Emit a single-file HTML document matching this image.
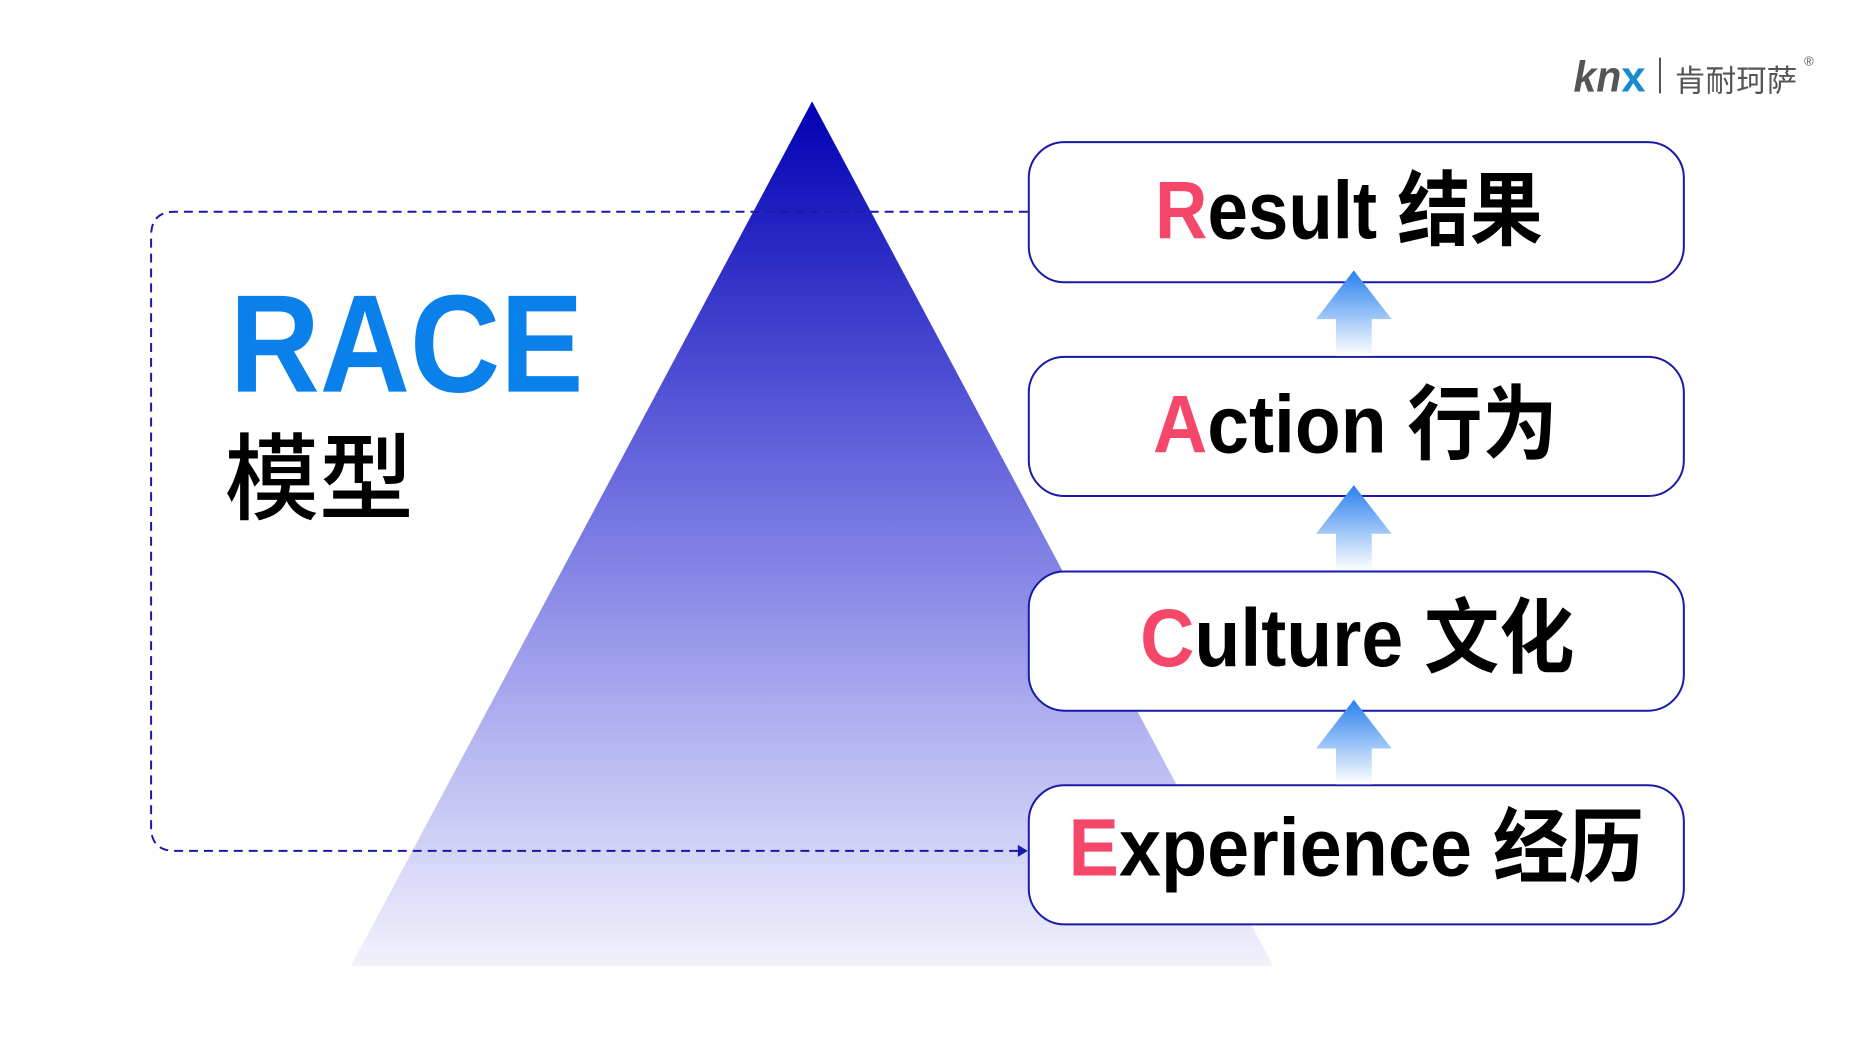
<!DOCTYPE html>
<html><head><meta charset="utf-8"><style>
html,body{margin:0;padding:0;background:#fff;}
svg{display:block;}
</style></head><body>
<svg width="1875" height="1042" viewBox="0 0 1875 1042" xmlns="http://www.w3.org/2000/svg">
<defs>
<linearGradient id="tri" x1="0" y1="0" x2="0" y2="1">
<stop offset="0" stop-color="#0000b4"/>
<stop offset="0.45" stop-color="#6e6ee0"/>
<stop offset="0.75" stop-color="#b8b8f2"/>
<stop offset="1" stop-color="#f2f2fd"/>
</linearGradient>
<linearGradient id="arr" x1="0" y1="0" x2="0" y2="1">
<stop offset="0" stop-color="#2a80ee"/>
<stop offset="1" stop-color="#ffffff"/>
</linearGradient>
</defs>
<g transform="scale(0.994)">
<polygon points="817,102 353,972 1281,972" fill="url(#tri)"/>
<path d="M1034,213 L176,213 Q152,213 152,237 L152,832 Q152,856 176,856 L1030,856" fill="none" stroke="#1a1aa8" stroke-width="2" stroke-dasharray="9,6"/>
<polygon points="1034,856 1024,850 1024,862" fill="#1a1aa8"/>
<text x="231" y="394" font-family="Liberation Sans, sans-serif" font-weight="700" font-size="140" fill="#0a80ea" textLength="356" lengthAdjust="spacingAndGlyphs">RACE</text>
<text x="226" y="515" font-family="Liberation Sans, 'Noto Sans CJK SC', sans-serif" font-weight="500" font-size="95" fill="#000">模型</text>
<g fill="#fff" stroke="#1a1aa8" stroke-width="2">
<rect x="1035" y="143" width="659" height="141" rx="36"/>
<rect x="1035" y="359" width="659" height="140" rx="36"/>
<rect x="1035" y="575" width="659" height="140" rx="36"/>
<rect x="1035" y="790" width="659" height="140" rx="36"/>
</g>
<g fill="url(#arr)">
<polygon points="1362,272 1324,321 1344,321 1344,358 1380,358 1380,321 1400,321"/>
<polygon points="1362,488 1324,537 1344,537 1344,574 1380,574 1380,537 1400,537"/>
<polygon points="1362,704 1324,753 1344,753 1344,789 1380,789 1380,753 1400,753"/>
</g>
<g font-family="Liberation Sans, 'Noto Sans CJK SC', sans-serif" font-weight="700" font-size="82" fill="#000">
<text x="1162" y="240" textLength="390" lengthAdjust="spacingAndGlyphs"><tspan fill="#f5476a">R</tspan>esult 结果</text>
<text x="1160" y="455" textLength="407" lengthAdjust="spacingAndGlyphs"><tspan fill="#f5476a">A</tspan>ction 行为</text>
<text x="1147" y="670" textLength="437" lengthAdjust="spacingAndGlyphs"><tspan fill="#f5476a">C</tspan>ulture 文化</text>
<text x="1075" y="881" textLength="579" lengthAdjust="spacingAndGlyphs"><tspan fill="#f5476a">E</tspan>xperience 经历</text>
</g>
<text x="1583" y="92" font-family="Liberation Sans, sans-serif" font-style="italic" font-weight="700" font-size="44" fill="#555" textLength="48" lengthAdjust="spacingAndGlyphs">kn</text>
<text x="1631" y="92" font-family="Liberation Sans, sans-serif" font-weight="700" font-size="44" fill="#1a8ad0">x</text>
<rect x="1669" y="58" width="2" height="36" fill="#555"/>
<text x="1685" y="92" font-family="Liberation Sans, 'Noto Sans CJK SC', sans-serif" font-size="31" fill="#555" textLength="123" lengthAdjust="spacingAndGlyphs">肯耐珂萨</text>
<text x="1815" y="66" font-family="Liberation Sans, sans-serif" font-size="13" fill="#555">®</text>
</g>
</svg>
</body></html>
